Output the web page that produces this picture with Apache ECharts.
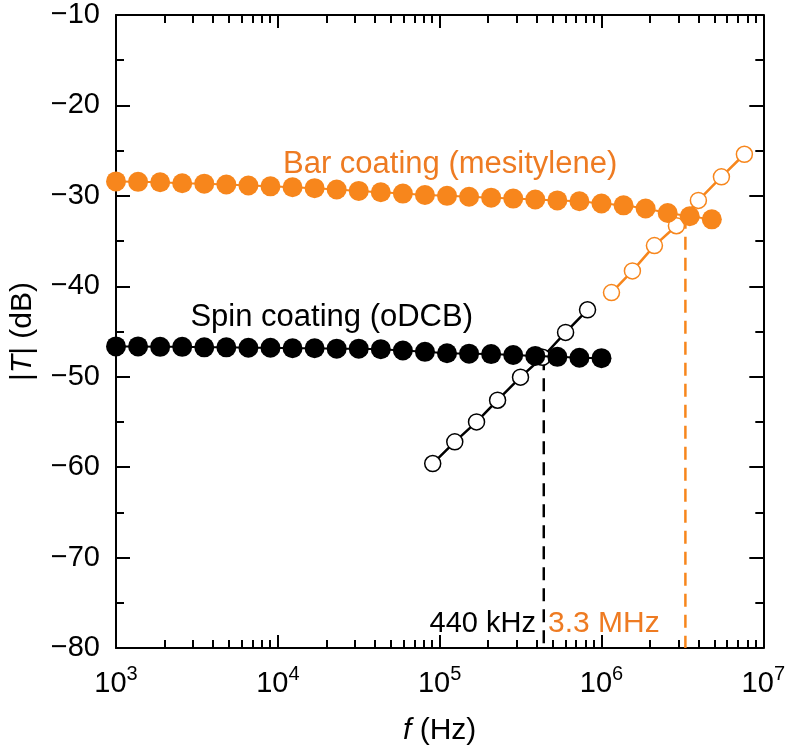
<!DOCTYPE html>
<html><head><meta charset="utf-8">
<script src="https://cdn.jsdelivr.net/npm/echarts@6.0.0/dist/echarts.min.js"></script>
<style>html,body{margin:0;padding:0;background:#fff}#c{width:788px;height:751px}</style>
</head><body><div id="c"></div>
<script>
// ---- data ----
const barFreq = [1000, 1369, 1874, 2565, 3511, 4806, 6579, 9006, 12328, 16876, 23101, 31623, 43288, 59256, 81113, 111034, 151991, 208057, 284804, 389860, 533670, 730527, 1000000, 1368874, 1873817, 2564972, 3511192, 4806380];
const barDb = [-28.4, -28.45, -28.5, -28.6, -28.65, -28.75, -28.85, -28.95, -29.05, -29.15, -29.3, -29.45, -29.6, -29.75, -29.9, -30.0, -30.1, -30.2, -30.3, -30.4, -30.5, -30.6, -30.85, -31.05, -31.4, -31.9, -32.25, -32.6];
const spinFreq = [1000, 1369, 1874, 2565, 3511, 4806, 6579, 9006, 12328, 16876, 23101, 31623, 43288, 59256, 81113, 111034, 151991, 208057, 284804, 389860, 533670, 730527, 1000000];
const spinDb = [-46.65, -46.65, -46.7, -46.7, -46.75, -46.75, -46.8, -46.8, -46.85, -46.85, -46.9, -46.9, -46.95, -47.1, -47.25, -47.4, -47.45, -47.5, -47.6, -47.7, -47.8, -47.9, -47.95];
const spinOpenFreq = [90600, 124000, 169000, 228000, 316000, 432000, 600000, 820000];
const spinOpenDb = [-59.6, -57.2, -55.0, -52.6, -50.05, -47.85, -45.1, -42.6];
const barOpenFreq = [1153000, 1553000, 2124000, 2904000, 3970000, 5510000, 7640000];
const barOpenDb = [-40.7, -38.3, -35.5, -33.3, -30.5, -27.9, -25.4];
const spinCut = [[440000, -47.85], [440000, -80]];
const barCut = [[3300000, -32.2], [3300000, -80]];
const xDecades = [1e3, 1e4, 1e5, 1e6];
const minorMult = [2, 3, 4, 5, 6, 7, 8, 9];
const yMin = -80, yMax = -10, yStep = 10;
const labels = {
  bar: 'Bar coating (mesitylene)',
  spin: 'Spin coating (oDCB)',
  spinF: '440 kHz',
  barF: '3.3 MHz'
};

// ---- style ----
const FONT = 'Liberation Sans';
const ORANGE = '#f7861c';
const ORANGE_TXT = '#ee7b22';
const BLACK = '#000';

const minorVals = [];
xDecades.forEach(d => minorMult.forEach(m => minorVals.push(d * m)));

const axisLine = {show: true, onZero: false, lineStyle: {color: BLACK, width: 2}};
const xTick = {show: true, inside: true, length: 13, lineStyle: {color: BLACK, width: 2}};
const yTick = {show: true, inside: true, length: 14, lineStyle: {color: BLACK, width: 2}};
const yMinor = {show: true, splitNumber: 2, length: 8, lineStyle: {color: BLACK, width: 2}};

function zip(a, b) { return a.map((v, i) => [v, b[i]]); }

const textEls = [
  {type: 'text', x: 283, y: 164, style: {text: labels.bar, fontFamily: FONT, fontSize: 31, fill: ORANGE_TXT, align: 'left', verticalAlign: 'middle'}},
  {type: 'text', x: 473, y: 317, style: {text: labels.spin, fontFamily: FONT, fontSize: 31, fill: BLACK, align: 'right', verticalAlign: 'middle'}},
  {type: 'text', x: 536, y: 624, style: {text: labels.spinF, fontFamily: FONT, fontSize: 29, fill: BLACK, align: 'right', verticalAlign: 'middle'}},
  {type: 'text', x: 548, y: 624, style: {text: labels.barF, fontFamily: FONT, fontSize: 30, fill: ORANGE_TXT, align: 'left', verticalAlign: 'middle'}}
];

const chart = echarts.init(document.getElementById('c'), null, {renderer: 'canvas'});
chart.setOption({
  animation: false,
  backgroundColor: '#fff',
  grid: {left: 116, right: 24, top: 15, bottom: 98, containLabel: false},
  xAxis: [{
    type: 'log', logBase: 10, min: 1e3, max: 1e7, position: 'bottom',
    axisLine: axisLine, axisTick: xTick, splitLine: {show: false},
    axisLabel: {
      margin: 16, color: BLACK,
      formatter: v => '{b|10}{s|' + Math.round(Math.log10(v)) + '}',
      rich: {
        b: {fontFamily: FONT, fontSize: 29, color: BLACK, lineHeight: 34, verticalAlign: 'bottom'},
        s: {fontFamily: FONT, fontSize: 20, color: BLACK, lineHeight: 34, verticalAlign: 'top'}
      }
    },
    name: '{i|f} (Hz)', nameLocation: 'middle', nameGap: 68,
    nameTextStyle: {fontFamily: FONT, fontSize: 30, color: BLACK,
      rich: {i: {fontFamily: FONT, fontSize: 30, fontStyle: 'italic', color: BLACK}}}
  }, {
    type: 'log', logBase: 10, min: 1e3, max: 1e7, position: 'top',
    axisLine: axisLine, axisTick: xTick, splitLine: {show: false},
    axisLabel: {show: false}
  }],
  yAxis: [{
    type: 'value', min: yMin, max: yMax, interval: yStep, position: 'left',
    axisLine: axisLine, axisTick: yTick, minorTick: yMinor,
    splitLine: {show: false}, minorSplitLine: {show: false},
    axisLabel: {margin: 16, fontFamily: FONT, fontSize: 29, color: BLACK,
      formatter: v => v < 0 ? '\u2212' + Math.abs(v) : String(v)},
    name: '|{i|T}| (dB)', nameLocation: 'middle', nameGap: 78, nameRotate: 90,
    nameTextStyle: {fontFamily: FONT, fontSize: 30, color: BLACK,
      rich: {i: {fontFamily: FONT, fontSize: 30, fontStyle: 'italic', color: BLACK}}}
  }, {
    type: 'value', min: yMin, max: yMax, interval: yStep, position: 'right',
    axisLine: axisLine, axisTick: yTick, minorTick: yMinor,
    splitLine: {show: false}, minorSplitLine: {show: false},
    axisLabel: {show: false}
  }],
  series: [
    {type: 'line', data: spinCut, symbol: 'none', silent: true, z: 1,
     lineStyle: {color: BLACK, width: 2.5, type: [13, 8]}},
    {type: 'line', data: barCut, symbol: 'none', silent: true, z: 1,
     lineStyle: {color: ORANGE, width: 2.5, type: [13, 8]}},
    {type: 'line', data: zip(spinOpenFreq, spinOpenDb), symbol: 'circle', symbolSize: 16, showAllSymbol: true, z: 2,
     lineStyle: {color: BLACK, width: 2.5}, itemStyle: {color: '#fff', borderColor: BLACK, borderWidth: 1.5}},
    {type: 'line', data: zip(barOpenFreq, barOpenDb), symbol: 'circle', symbolSize: 16, showAllSymbol: true, z: 2,
     lineStyle: {color: ORANGE, width: 2.5}, itemStyle: {color: '#fff', borderColor: ORANGE, borderWidth: 1.5}},
    {type: 'line', data: zip(spinFreq, spinDb), symbol: 'circle', symbolSize: 20, showAllSymbol: true, z: 3,
     lineStyle: {color: BLACK, width: 2}, itemStyle: {color: BLACK}},
    {type: 'line', data: zip(barFreq, barDb), symbol: 'circle', symbolSize: 20, showAllSymbol: true, z: 3,
     lineStyle: {color: ORANGE, width: 2}, itemStyle: {color: ORANGE}}
  ],
  graphic: textEls
});

// minor log ticks on bottom and top, positioned through the axis scale
const tickEls = [];
minorVals.forEach(v => {
  const b = chart.convertToPixel({xAxisIndex: 0, yAxisIndex: 0}, [v, yMin]);
  const t = chart.convertToPixel({xAxisIndex: 0, yAxisIndex: 0}, [v, yMax]);
  const x = Math.round(b[0]);
  tickEls.push({type: 'line', silent: true, z: 100, shape: {x1: x, y1: b[1], x2: x, y2: b[1] - 8}, style: {stroke: BLACK, lineWidth: 2}});
  tickEls.push({type: 'line', silent: true, z: 100, shape: {x1: x, y1: t[1], x2: x, y2: t[1] + 8}, style: {stroke: BLACK, lineWidth: 2}});
});
chart.setOption({graphic: textEls.concat(tickEls)}, {replaceMerge: ['graphic']});
</script>
</body></html>
